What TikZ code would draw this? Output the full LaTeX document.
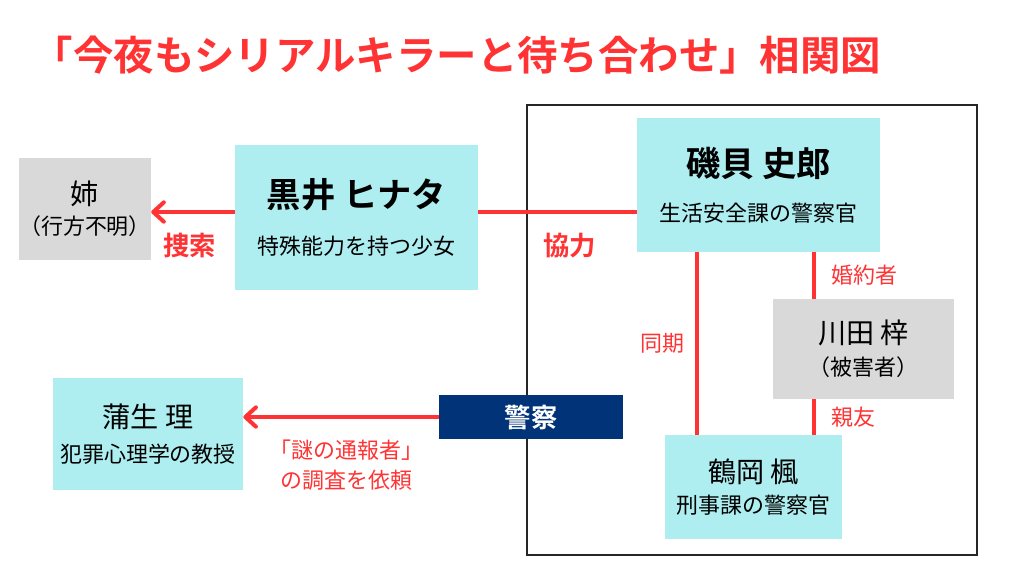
\documentclass[tikz,border=0pt]{standalone}
\usepackage{fontspec}
\setmainfont{Noto Sans CJK JP}[BoldFont={Noto Sans CJK JP Bold}]
\usetikzlibrary{arrows.meta}

\definecolor{relred}{RGB}{255,51,51}
\definecolor{boxcyan}{RGB}{174,238,240}
\definecolor{boxgray}{RGB}{217,217,217}
\definecolor{policenavy}{RGB}{0,51,120}

\newcommand{\namefont}{\fontsize{16}{19}\selectfont}
\newcommand{\boldname}{\bfseries\fontsize{19.5}{23}\selectfont}
\newcommand{\subfont}{\fontsize{12.5}{15}\selectfont}

\begin{document}
\begin{tikzpicture}[
  x=0.02cm,y=-0.02cm,
  person/.style={fill=#1,inner sep=0pt,align=center,text=black},
  rel/.style={draw=relred,line width=2.3pt},
  relarrow/.style={rel,-{Straight Barb[length=6pt,width=11pt,round]}},
  bigtag/.style={text=relred,font=\bfseries\fontsize{15}{18}\selectfont,inner sep=0pt},
  tag/.style={text=relred,font=\fontsize{12.5}{15}\selectfont,inner sep=0pt,align=center}
]
  \useasboundingbox (0,0) rectangle (1024,576);

  % title
  \node[text=relred,font=\bfseries\fontsize{23}{27}\selectfont] (title) at (457,55)
    {「今夜もシリアルキラーと待ち合わせ」相関図};

  % police frame
  \draw[black!85,line width=1.5pt] (527,105) rectangle (977,555);

  % people
  \node[person=boxgray,minimum width=2.52cm,minimum height=2.04cm] (ane) at (85,209)
    {\namefont 姉\\[5pt]\subfont （行方不明）};
  \node[person=boxcyan,minimum width=4.86cm,minimum height=2.9cm] (kuroi) at (356.5,217.5)
    {\boldname 黒井 ヒナタ\\[13pt]\subfont 特殊能力を持つ少女};
  \node[person=boxcyan,minimum width=4.86cm,minimum height=2.68cm] (isogai) at (758.5,185)
    {\boldname 磯貝 史郎\\[12pt]\subfont 生活安全課の警察官};
  \node[person=boxgray,minimum width=3.62cm,minimum height=2.0cm] (kawada) at (863.5,349)
    {\namefont 川田 梓\\[5pt]\subfont （被害者）};
  \node[person=boxcyan,minimum width=3.54cm,minimum height=2.08cm] (tsuruoka) at (753.5,487)
    {\namefont 鶴岡 楓\\[5pt]\subfont 刑事課の警察官};
  \node[person=boxcyan,minimum width=3.8cm,minimum height=2.24cm] (gamo) at (148,434)
    {\namefont 蒲生 理\\[8pt]\subfont 犯罪心理学の教授};
  \node[fill=policenavy,text=white,font=\bfseries\fontsize{15}{18}\selectfont,
    minimum width=3.68cm,minimum height=0.88cm,inner sep=0pt] (police) at (531,417) {警察};

  % lanes for the connectors
  \coordinate (axis) at (0,212);
  \coordinate (lane1) at (697,0);
  \coordinate (lane2) at (814,0);

  % relations
  \draw[relarrow] (kuroi.west |- axis) -- node[bigtag,below=11pt,xshift=-2pt] {捜索} (ane.east |- axis);
  \draw[rel] (kuroi.east |- axis) -- node[bigtag,below=11pt,xshift=7pt] {協力} (isogai.west |- axis);
  \draw[rel] (isogai.south -| lane1) -- node[tag,left=6pt] {同期} (tsuruoka.north -| lane1);
  \draw[rel] (isogai.south -| lane2) -- node[tag,right=9pt] {婚約者} (kawada.north -| lane2);
  \draw[rel] (kawada.south -| lane2) -- node[tag,right=9pt] {親友} (tsuruoka.north -| lane2);
  \draw[relarrow] (police.west) -- node[tag,below=12pt,xshift=3pt] {「謎の通報者」\\[2pt]の調査を依頼} (gamo.east |- police.west);
\end{tikzpicture}
\end{document}
